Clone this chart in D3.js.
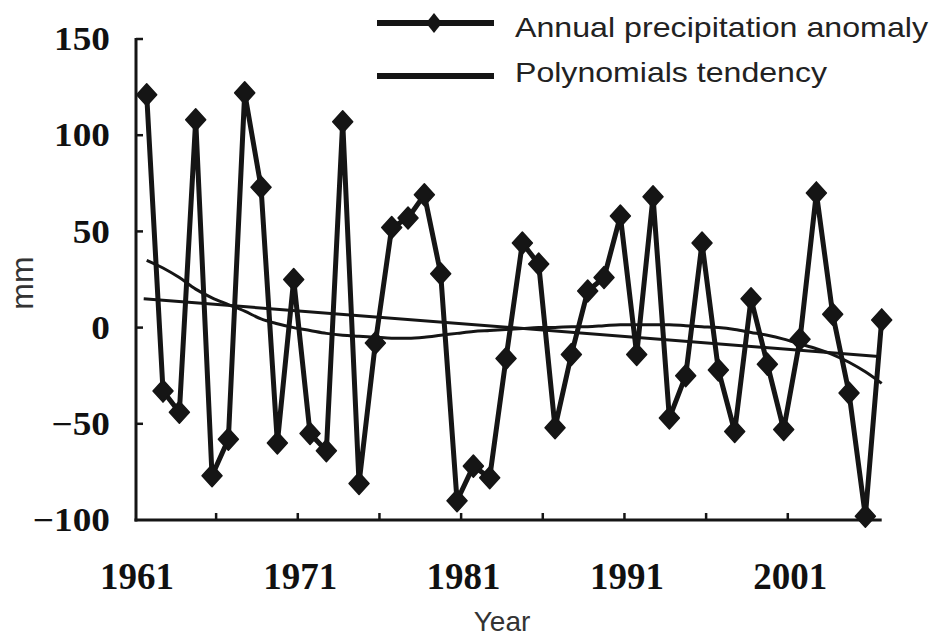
<!DOCTYPE html>
<html><head><meta charset="utf-8">
<script src="https://cdn.jsdelivr.net/npm/d3@7/dist/d3.min.js"></script>
<style>body{margin:0;background:#fff}svg{display:block}</style>
</head><body>
<svg id="chart" width="935" height="637"></svg>
<script>
// ---- data ----
const years = [1961,1962,1963,1964,1965,1966,1967,1968,1969,1970,
               1971,1972,1973,1974,1975,1976,1977,1978,1979,1980,
               1981,1982,1983,1984,1985,1986,1987,1988,1989,1990,
               1991,1992,1993,1994,1995,1996,1997,1998,1999,2000,
               2001,2002,2003,2004,2005,2006];
const anomaly = [121,-33,-44,108,-77,-58,122,73,-60,25,
                 -55,-64,107,-81,-8,52,57,69,28,-90,
                 -72,-78,-16,44,33,-52,-14,19,26,58,
                 -14,68,-47,-25,44,-22,-54,15,-19,-53,
                 -6,70,7,-34,-98,4];
const polyTrend = [35,31,26,20,15.5,12,8.5,4.5,2,0,
                   -1.5,-3,-4,-4.5,-5,-5.5,-5.5,-5,-4,-3,
                   -2,-1.5,-1,-0.5,0,0,0.5,0.5,1,1.5,
                   1.5,1.5,1.5,1,0.5,0,-1,-2.5,-4,-6,
                   -8.5,-11,-14,-18,-23,-29];
const linearYears = [1961, 2006];
const linearTrend = [15, -15];
const yTicks = [-100,-50,0,50,100,150];
const xTickYears = [1966,1971,1976,1981,1986,1991,1996,2001];
const xLabelYears = [1961,1971,1981,1991,2001];
const seriesNames = ["Annual precipitation anomaly","Polynomials tendency"];

// ---- scales ----
const svg = d3.select("#chart");
const x = d3.scaleLinear().domain([1961, 2006]).range([146.7, 881.7]);
const step = x(1962) - x(1961);
const y = d3.scaleLinear().domain([-100, 150]).range([520, 39]);
const ink = "#151515";

svg.append("rect").attr("width",935).attr("height",637).attr("fill","#fff");

// ---- axes ----
const axisX0 = 136;
svg.append("line").attr("x1",axisX0).attr("x2",axisX0).attr("y1",y(150)-1).attr("y2",y(-100)+1.5)
  .attr("stroke",ink).attr("stroke-width",3);
svg.append("line").attr("x1",axisX0-1.5).attr("x2",x(2006)).attr("y1",y(-100)).attr("y2",y(-100))
  .attr("stroke",ink).attr("stroke-width",3);

// y ticks (inside)
svg.selectAll(".yt").data(yTicks.filter(d=>d>-100)).enter().append("line")
  .attr("x1",axisX0).attr("x2",axisX0+7).attr("y1",d=>y(d)).attr("y2",d=>y(d))
  .attr("stroke",ink).attr("stroke-width",2.5);
// y labels
svg.selectAll(".yl").data(yTicks).enter().append("text")
  .attr("transform",d=>`translate(110,${y(d)}) scale(1.13,1)`)
  .attr("text-anchor","end").attr("dy","0.34em")
  .attr("font-family","'Liberation Serif','Times New Roman',serif").attr("font-weight","bold")
  .attr("font-size",33).attr("fill","#111")
  .text(d=>d<0 ? "\u2212"+Math.abs(d) : d);

// x ticks (inside, upward)
svg.selectAll(".xt").data(xTickYears).enter().append("line")
  .attr("x1",d=>x(d)-0.75*step).attr("x2",d=>x(d)-0.75*step)
  .attr("y1",y(-100)).attr("y2",y(-100)-7)
  .attr("stroke",ink).attr("stroke-width",2.5);
// x labels
svg.selectAll(".xl").data(xLabelYears).enter().append("text")
  .attr("x",d=>x(d)-0.6*step).attr("y",589)
  .attr("text-anchor","middle")
  .attr("font-family","'Liberation Serif','Times New Roman',serif").attr("font-weight","bold")
  .attr("font-size",37).attr("fill","#111")
  .text(d=>d);

// axis titles
svg.append("text").attr("x",502).attr("y",631).attr("text-anchor","middle")
  .attr("font-family","'Liberation Sans',Arial,sans-serif").attr("font-size",28).attr("fill","#333")
  .text("Year");
svg.append("text").attr("transform","translate(33,283) rotate(-90)").attr("text-anchor","middle")
  .attr("font-family","'Liberation Sans',Arial,sans-serif").attr("font-size",32).attr("fill","#333")
  .text("mm");

// ---- trend lines ----
const linData = linearYears.map((d,i)=>({yr:d, v:linearTrend[i]}));
svg.append("path").datum(linData)
  .attr("d", d3.line().x(d=>x(d.yr)-3).y(d=>y(d.v)))
  .attr("fill","none").attr("stroke",ink).attr("stroke-width",3);

const polyData = years.map((d,i)=>({yr:d, v:polyTrend[i]}));
svg.append("path").datum(polyData)
  .attr("d", d3.line().curve(d3.curveMonotoneX).x(d=>x(d.yr)).y(d=>y(d.v)))
  .attr("fill","none").attr("stroke",ink).attr("stroke-width",3);

// ---- anomaly series ----
const anData = years.map((d,i)=>({yr:d, v:anomaly[i]}));
svg.append("path").datum(anData)
  .attr("d", d3.line().x(d=>x(d.yr)).y(d=>y(d.v)))
  .attr("fill","none").attr("stroke",ink).attr("stroke-width",5).attr("stroke-linejoin","round");

const diamond = (cx,cy,w,h)=>`M${cx},${cy-h}L${cx+w},${cy}L${cx},${cy+h}L${cx-w},${cy}Z`;
svg.selectAll(".mk").data(anData).enter().append("path")
  .attr("d", d=>diamond(x(d.yr), y(d.v), 10, 11))
  .attr("fill",ink).attr("stroke",ink).attr("stroke-width",1.5).attr("stroke-linejoin","round");

// ---- legend ----
const lg = svg.append("g");
lg.append("line").attr("x1",377).attr("x2",494).attr("y1",23).attr("y2",23)
  .attr("stroke",ink).attr("stroke-width",6);
lg.append("path").attr("d",diamond(434,23,8,10)).attr("fill",ink);
lg.append("line").attr("x1",377).attr("x2",494).attr("y1",76).attr("y2",76)
  .attr("stroke",ink).attr("stroke-width",6);
lg.append("text").attr("x",515).attr("y",37).attr("textLength",413).attr("lengthAdjust","spacingAndGlyphs")
  .attr("font-family","'Liberation Sans',Arial,sans-serif").attr("font-size",28).attr("fill","#222")
  .text(seriesNames[0]);
lg.append("text").attr("x",515).attr("y",82).attr("textLength",312).attr("lengthAdjust","spacingAndGlyphs")
  .attr("font-family","'Liberation Sans',Arial,sans-serif").attr("font-size",28).attr("fill","#222")
  .text(seriesNames[1]);
</script>
</body></html>
